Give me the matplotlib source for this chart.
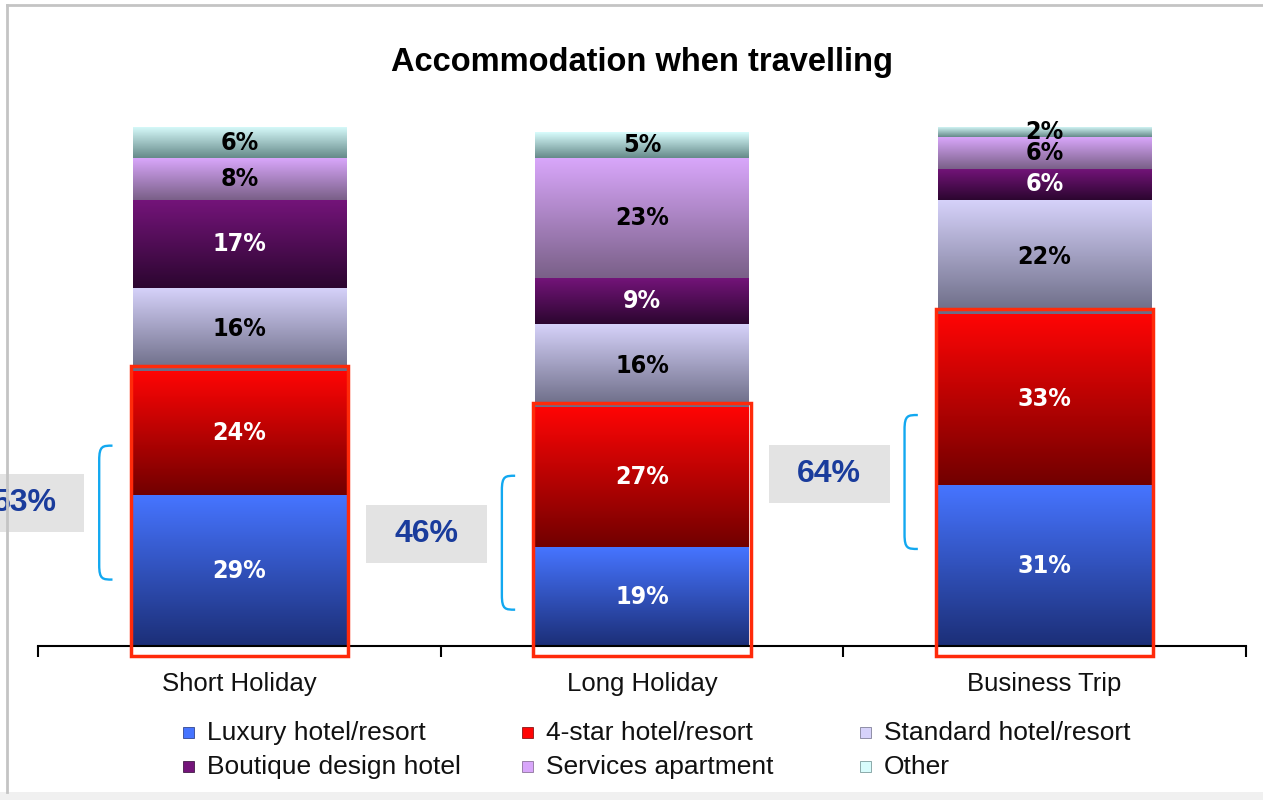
import matplotlib.pyplot as plt
import numpy as np
from matplotlib import font_manager
from matplotlib.colors import LinearSegmentedColormap
from matplotlib.patches import Rectangle, PathPatch
from matplotlib.path import Path
from matplotlib.lines import Line2D

# data
categories = ["Short Holiday", "Long Holiday", "Business Trip"]
segments = ["Luxury hotel/resort", "4-star hotel/resort", "Standard hotel/resort",
            "Boutique design hotel", "Services apartment", "Other"]
luxury    = [29, 19, 31]
four_star = [24, 27, 33]
standard  = [16, 16, 22]
boutique  = [17, 9, 6]
services  = [8, 23, 6]
other     = [6, 5, 2]
combined  = [53, 46, 64]   # luxury + 4-star, shown in the grey boxes

values = [luxury, four_star, standard, boutique, services, other]

# gradient colours (top, bottom) per segment, and label colour
grad = [("#4674ff", "#1c2f78"),
        ("#ff0505", "#720000"),
        ("#d6d2fa", "#6c6c86"),
        ("#74147a", "#2c0630"),
        ("#d8a6fa", "#7a6088"),
        ("#d8fcfc", "#668a8a")]
label_colors = ["white", "white", "black", "white", "black", "black"]

plt.rcParams["font.family"] = ["Liberation Sans", "DejaVu Sans"]
installed = {f.name for f in font_manager.fontManager.ttflist}
if "Liberation Sans Narrow" in installed:
    label_font = dict(family=["Liberation Sans Narrow", "DejaVu Sans"], fontsize=21)
else:
    label_font = dict(family=["DejaVu Sans"], fontstretch="condensed", fontsize=18)

W, H = 1263, 800
fig = plt.figure(figsize=(W / 100, H / 100), dpi=100)
ax = fig.add_axes([38 / W, 154 / H, 1208 / W, 519 / H])
x = np.arange(len(categories))
width = 0.53

bottoms = np.zeros(len(categories))
for i, vals in enumerate(values):
    bars = ax.bar(x, vals, width, bottom=bottoms, color="none", linewidth=0)
    cmap = LinearSegmentedColormap.from_list(f"g{i}", [grad[i][1], grad[i][0]])
    for b in bars:
        bx, by, bw, bh = b.get_x(), b.get_y(), b.get_width(), b.get_height()
        g = np.linspace(1, 0, 64).reshape(-1, 1)
        im = ax.imshow(g, cmap=cmap, extent=[bx, bx + bw, by, by + bh],
                       aspect="auto", interpolation="bilinear", zorder=1)
        im.set_clip_path(b)
    for xi, v, b0 in zip(x, vals, bottoms):
        ax.text(xi, b0 + v / 2, f"{v}%", ha="center", va="center",
                fontweight="bold", color=label_colors[i], zorder=4, **label_font)
    bottoms += np.array(vals)

# red highlight boxes around luxury + 4-star
for xi, c in zip(x, combined):
    ax.add_patch(Rectangle((xi - 0.27, -1.9), 0.54, c + 1.9 + 0.9,
                           fill=False, edgecolor="#ff2a0a", linewidth=2.5,
                           clip_on=False, zorder=5))

# grey value boxes and cyan braces
box_y = [27.6, 21.5, 33.2]
brace_y = [25.7, 19.9, 31.6]
for xi, c, yb, yr in zip(x, combined, box_y, brace_y):
    ax.add_patch(Rectangle((xi - 0.685, yb - 5.6), 0.3, 11.2,
                           facecolor="#e3e3e3", edgecolor="none",
                           clip_on=False, zorder=3))
    ax.text(xi - 0.535, yb, f"{c}%", ha="center", va="center",
            fontsize=23, fontweight="bold", color="#1a3c9c", zorder=4,
            clip_on=False)
    x0, x1 = xi - 0.315, xi - 0.348
    top, bot = yr + 12.9, yr - 12.9
    r = 2.8
    dx = (x0 - x1) * 0.9
    verts = [(x0, top), (x1 + dx * 0.3, top), (x1, top), (x1, top - r),
             (x1, bot + r), (x1, bot), (x1 + dx * 0.3, bot), (x0, bot)]
    codes = [Path.MOVETO, Path.CURVE4, Path.CURVE4, Path.CURVE4,
             Path.LINETO, Path.CURVE4, Path.CURVE4, Path.CURVE4]
    ax.add_patch(PathPatch(Path(verts, codes), fill=False, edgecolor="#12a8f0",
                           linewidth=1.7, clip_on=False, zorder=3))

ax.set_xlim(-0.5, 2.5)
ax.set_ylim(0, 100)
for s in ["top", "right", "left"]:
    ax.spines[s].set_visible(False)
ax.spines["bottom"].set_linewidth(1.5)
ax.set_yticks([])
ax.set_xticks([-0.5, 0.5, 1.5, 2.5])
ax.set_xticklabels([])
ax.tick_params(axis="x", length=8, width=1.5, direction="out")
for xi, cat in zip(x, categories):
    ax.text(xi, -7.4, cat, ha="center", va="center", fontsize=18.5,
            color="#111111", clip_on=False)

fig.text(0.508, 0.922, "Accommodation when travelling", ha="center",
         va="center", fontsize=23.5, fontweight="bold")

# legend: two rows of three, laid out on a fixed grid
col_px = [183, 522, 860]
row_px = [733, 767]
for i, name in enumerate(segments):
    cx = col_px[i % 3] / W
    cy = 1 - row_px[i // 3] / H
    fig.add_artist(Rectangle((cx, cy - 5 / H), 11 / W, 11 / H,
                             facecolor=grad[i][0], edgecolor=grad[i][1],
                             linewidth=0.5, transform=fig.transFigure))
    fig.text(cx + 24 / W, cy, name, ha="left", va="center", fontsize=19,
             color="#111111")

# outer frame like the original slide
fig.add_artist(Line2D([7 / W, 7 / W], [0.01, 1 - 5 / H],
                      color="#c4c4c4", linewidth=2))
fig.add_artist(Line2D([7 / W, 1], [1 - 5 / H, 1 - 5 / H],
                      color="#c4c4c4", linewidth=2))
fig.add_artist(Rectangle((0, 0), 1, 0.01, facecolor="#f0f0f0",
                         edgecolor="none", transform=fig.transFigure))

fig.savefig("out.png", dpi=100)
